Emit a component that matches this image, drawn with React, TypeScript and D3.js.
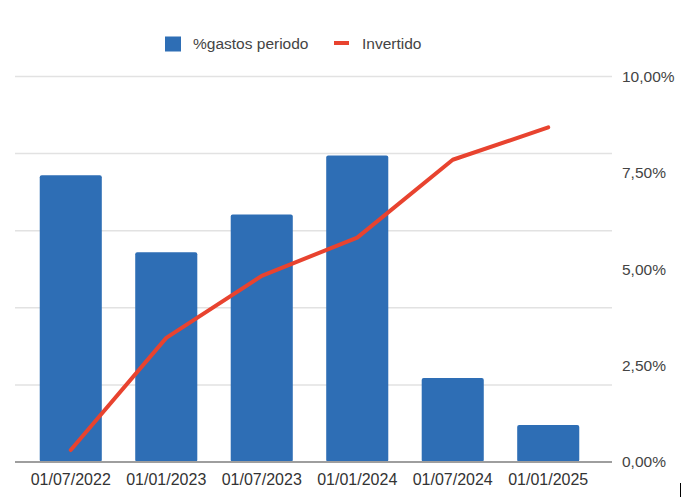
import React from "react";
import * as d3 from "d3";

const categories = ["01/07/2022", "01/01/2023", "01/07/2023", "01/01/2024", "01/07/2024", "01/01/2025"];
const gastosPeriodo = [7.44, 5.44, 6.42, 7.95, 2.18, 0.96];
const invertido = [0.31, 3.22, 4.83, 5.82, 7.84, 8.68];
const rightTicks = [0, 2.5, 5, 7.5, 10];
const gridTicks = [0, 2, 4, 6, 8, 10];

const W = 689;
const H = 499;
const FONT = "'Liberation Sans', Arial, sans-serif";
const BLUE = "#2E6EB5";
const RED = "#E8432F";

export default function App() {
  const x = d3.scaleBand<string>().domain(categories).range([23.5, 595.5]).paddingInner(0.35).paddingOuter(0.17);
  const yBar = d3.scaleLinear().domain([0, 10]).range([462, 76.5]);
  const yLine = d3.scaleLinear().domain([0, 10]).range([462, 76.5]);
  const fmt = (v: number) => v.toFixed(2).replace(".", ",") + "%";
  const line = d3
    .line<number>()
    .x((_, i) => (x(categories[i]) as number) + x.bandwidth() / 2)
    .y((d) => yLine(d));

  return (
    <svg width={W} height={H} style={{ position: "absolute", left: 0, top: 0, background: "#fff" }} fontFamily={FONT}>
      <rect width={W} height={H} fill="#fff" />
      {gridTicks.slice(1).map((t) => (
        <line key={t} x1={15} x2={612} y1={yBar(t)} y2={yBar(t)} stroke="#e2e2e2" strokeWidth={1.5} />
      ))}
      {categories.map((c, i) => (
        <rect
          key={c}
          x={x(c)}
          y={yBar(gastosPeriodo[i])}
          width={x.bandwidth()}
          height={yBar(0) - yBar(gastosPeriodo[i])}
          fill={BLUE}
          rx={2}
        />
      ))}
      <line x1={15} x2={612} y1={yBar(0)} y2={yBar(0)} stroke="#9e9e9e" strokeWidth={2} />
      <path d={line(invertido) || ""} fill="none" stroke={RED} strokeWidth={4} strokeLinejoin="round" strokeLinecap="round" />
      {rightTicks.map((t) => (
        <text key={t} x={622} y={yLine(t)} dy="0.35em" fontSize={15.5} fill="#444">
          {fmt(t)}
        </text>
      ))}
      {categories.map((c) => (
        <text key={c} x={(x(c) as number) + x.bandwidth() / 2} y={484.5} textAnchor="middle" fontSize={16} fill="#333">
          {c}
        </text>
      ))}
      <g>
        <rect x={165} y={36.5} width={16} height={15} fill={BLUE} />
        <text x={193} y={49} fontSize={15.5} fill="#444">%gastos periodo</text>
        <rect x={334} y={41} width={15} height={4} fill={RED} />
        <text x={362} y={49} fontSize={15.5} fill="#444">Invertido</text>
      </g>
      <line x1={680.5} x2={680.5} y1={483} y2={497} stroke="#000" strokeWidth={1} />
    </svg>
  );
}
